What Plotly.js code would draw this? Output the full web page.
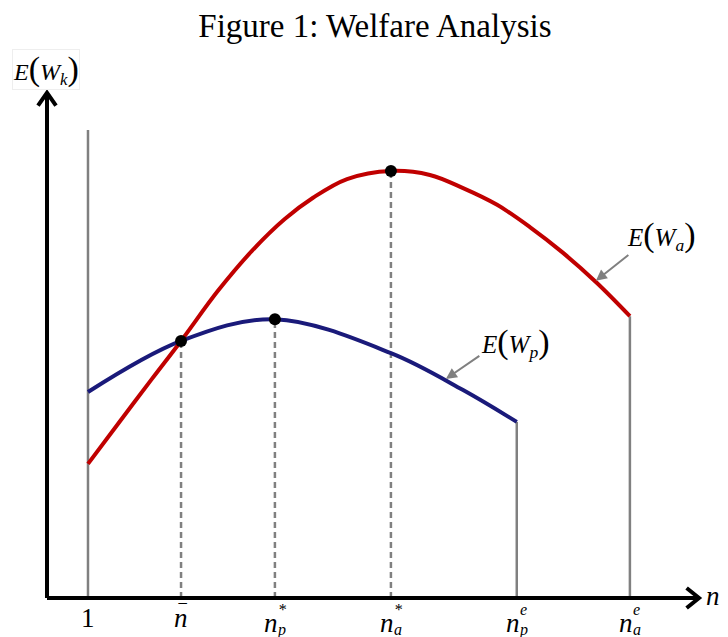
<!DOCTYPE html>
<html>
<head>
<meta charset="utf-8">
<script src="https://cdn.plot.ly/plotly-3.0.1.min.js"></script>
<style>html,body{margin:0;padding:0;background:#fff;}#chart{width:728px;height:637px;}</style>
</head>
<body>
<div id="chart"></div>
<script>
// ---- data ----
const redX  = [1, 1.73, 2.56, 3.27, 4.17, 5.00, 5.80, 6.49, 7.32, 8.39, 9.34, 10.15, 10.98, 11.78, 12.59, 13.41, 14.22];
const redY  = [2.65, 3.44, 4.33, 5.08, 6.07, 6.86, 7.49, 7.91, 8.28, 8.44, 8.36, 8.10, 7.77, 7.33, 6.82, 6.23, 5.57];
const blueX = [1, 3.27, 5.56, 8.39, 10.15, 11.46];
const blueY = [4.07, 5.08, 5.51, 4.84, 4.11, 3.48];

// key points: intersection, blue peak, red peak
const dotX = [3.27, 5.56, 8.39];
const dotY = [5.08, 5.51, 8.44];

// end points of curves
const endX = [11.46, 14.22];
const endY = [3.48, 5.57];

// start vertical line at n = 1
const startX = 1;
const startTop = 9.25;

// tick labels
const tickVals = [1, 3.27, 5.56, 8.39, 11.46, 14.22];
const tickBase = ['1', 'n', 'n', 'n', 'n', 'n'];
const tickBar  = [false, true, false, false, false, false];
const tickSub  = ['', '', 'p', 'a', 'p', 'a'];
const tickSup  = ['', '', '*', '*', 'e', 'e'];

const serif = 'Liberation Serif, Times New Roman, serif';
const gray = '#808080';

const traces = [];
traces.push({x:[startX,startX], y:[0,startTop], mode:'lines', line:{color:gray,width:2.5}, hoverinfo:'skip', showlegend:false});
for (let i = 0; i < dotX.length; i++) {
  traces.push({x:[dotX[i],dotX[i]], y:[0,dotY[i]], mode:'lines', line:{color:gray,width:2.5,dash:'6px,4px'}, hoverinfo:'skip', showlegend:false});
}
for (let i = 0; i < endX.length; i++) {
  traces.push({x:[endX[i],endX[i]], y:[0,endY[i]], mode:'lines', line:{color:gray,width:2.5}, hoverinfo:'skip', showlegend:false});
}
traces.push({x:blueX, y:blueY, mode:'lines', line:{color:'#1a1a7a', width:4, shape:'spline', smoothing:1}, showlegend:false});
traces.push({x:redX, y:redY, mode:'lines', line:{color:'#c00000', width:4, shape:'spline', smoothing:1}, showlegend:false});
traces.push({x:dotX, y:dotY, mode:'markers', marker:{color:'#000', size:12}, showlegend:false});

const bigP = s => "<span style='font-size:34px'>" + s + "</span>";
const lbl = sub => "<i>E</i>" + bigP('(') + "<i>W</i><sub><i>" + sub + "</i></sub>" + bigP(')');

const ann = [];
tickVals.forEach((v, i) => {
  const base = tickBase[i] === '1' ? '1' : "<i>" + tickBase[i] + "</i>";
  ann.push({x:v, y:0, xref:'x', yref:'y', text: base, showarrow:false, yanchor:'top', yshift: tickSub[i] ? -8 : -3,
            xshift: tickSub[i] ? -4 : 0, font:{family:serif, size:27, color:'#000'}});
  if (tickBar[i]) ann.push({x:v, y:0, xref:'x', yref:'y', text:'\u203E', showarrow:false, yanchor:'top', yshift:0, xshift:1, font:{family:serif, size:22, color:'#000'}});
  if (tickSub[i]) ann.push({x:v, y:0, xref:'x', yref:'y', text:"<i>"+tickSub[i]+"</i>", showarrow:false, yanchor:'top', yshift:-21, xshift:7, font:{family:serif, size:16, color:'#000'}});
  if (tickSup[i]) ann.push({x:v, y:0, xref:'x', yref:'y', text:"<i>"+tickSup[i]+"</i>", showarrow:false, yanchor:'top', yshift:-1, xshift:7, font:{family:serif, size:16, color:'#000'}});
});
ann.push({x:1, y:0, xref:'paper', yref:'y', text:'<i>n</i>', showarrow:false, xanchor:'left', xshift:4, yshift:2, font:{family:serif, size:27, color:'#000'}});
ann.push({x:0, y:1, xref:'paper', yref:'paper', text: lbl('k'), showarrow:false, xanchor:'center', yanchor:'bottom', yshift:2, xshift:-1, font:{family:serif, size:24, color:'#000'}, bordercolor:'#eeeeee', borderwidth:1, borderpad:0});
ann.push({x:13.39, y:6.27, xref:'x', yref:'y', text:'', showarrow:true, ax:34, ay:-27, arrowhead:2, arrowsize:1.1, arrowwidth:2, arrowcolor:gray});
ann.push({x:13.39, y:6.27, xref:'x', yref:'y', text:lbl('a'), showarrow:false, xshift:66, yshift:45, font:{family:serif, size:25, color:'#000'}});
ann.push({x:9.73, y:4.33, xref:'x', yref:'y', text:'', showarrow:true, ax:35, ay:-24, arrowhead:2, arrowsize:1.1, arrowwidth:2, arrowcolor:gray});
ann.push({x:9.73, y:4.33, xref:'x', yref:'y', text:lbl('p'), showarrow:false, xshift:70, yshift:36, font:{family:serif, size:25, color:'#000'}});

const shapes = [
  {type:'line', xref:'paper', yref:'paper', x0:0, x1:0.995, y0:0, y1:0, line:{color:'#000', width:4}},
  {type:'line', xref:'paper', yref:'paper', x0:0, x1:0, y0:0, y1:0.995, line:{color:'#000', width:4}},
  {type:'path', xref:'paper', yref:'paper', path:'M 0.9795 0.0198 L 0.9985 0 L 0.9795 -0.0198', line:{color:'#000', width:4}},
  {type:'path', xref:'paper', yref:'paper', path:'M -0.0138 0.973 L 0 0.9985 L 0.0138 0.973', line:{color:'#000', width:4}}
];

const layout = {
  width:728, height:637,
  margin:{l:47, r:28, t:92, b:39},
  paper_bgcolor:'#fff', plot_bgcolor:'#fff',
  title:{text:'Figure 1: Welfare Analysis', x:0.515, xanchor:'center', y:0.96, yanchor:'middle', font:{family:serif, size:33, color:'#000'}},
  xaxis:{range:[0,15.93], visible:false, fixedrange:true},
  yaxis:{range:[0,10], visible:false, fixedrange:true},
  annotations: ann,
  shapes: shapes,
  showlegend:false
};
Plotly.newPlot('chart', traces, layout, {displayModeBar:false, staticPlot:true});
</script>
</body>
</html>
